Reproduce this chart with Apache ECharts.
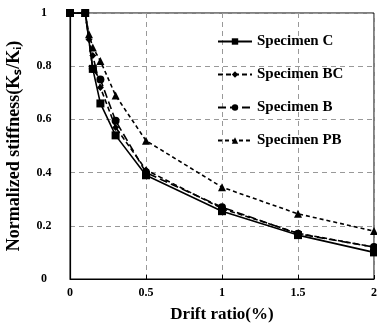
<!DOCTYPE html>
<html>
<head>
<meta charset="utf-8">
<script src="https://cdn.jsdelivr.net/npm/echarts@6/dist/echarts.min.js"></script>
<style>
  html, body { margin: 0; padding: 0; background: #fff; }
  #main { width: 377px; height: 327px; }
</style>
</head>
<body>
<div id="main"></div>
<script>
// drift ratio (%) vs normalized stiffness
let specC  = [[0, 1], [0.1, 1], [0.15, 0.79], [0.2, 0.66], [0.3, 0.54], [0.5, 0.39], [1, 0.255], [1.5, 0.165], [2, 0.1]];
let specBC = [[0, 1], [0.1, 1], [0.125, 0.9], [0.15, 0.84], [0.2, 0.72], [0.3, 0.57], [0.5, 0.41], [1, 0.265], [1.5, 0.172], [2, 0.12]];
let specB  = [[0, 1], [0.1, 1], [0.15, 0.79], [0.2, 0.75], [0.3, 0.595], [0.5, 0.4], [1, 0.27], [1.5, 0.17], [2, 0.12]];
let specPB = [[0, 1], [0.1, 1], [0.125, 0.92], [0.15, 0.87], [0.2, 0.82], [0.3, 0.69], [0.5, 0.52], [1, 0.345], [1.5, 0.245], [2, 0.18]];

let font = 'Liberation Serif';

let chartDom = document.getElementById('main');
let myChart = echarts.init(chartDom);

function mk(name, data, symbol, size, dash) {
    return {
        name: name,
        type: 'line',
        data: data,
        symbol: symbol,
        symbolSize: size,
        itemStyle: { color: '#000' },
        lineStyle: { color: '#000', width: 1.6, type: dash },
        animation: false
    };
}

let option = {
    grid: {
        left: 70, right: 3, top: 13, bottom: 48,
        outerBoundsMode: 'none',
        show: true, borderColor: '#000', borderWidth: 1
    },
    legend: {
        orient: 'vertical',
        left: 212,
        top: 29,
        itemGap: 18,
        itemWidth: 34,
        itemHeight: 8,
        textStyle: { fontFamily: font, fontWeight: 'bold', fontSize: 15, color: '#000' },
        data: ['Specimen C', 'Specimen BC', 'Specimen B', 'Specimen PB']
    },
    xAxis: {
        type: 'value',
        min: 0, max: 2, interval: 0.5,
        name: 'Drift ratio(%)',
        nameLocation: 'middle',
        nameGap: 27,
        nameTextStyle: { fontFamily: font, fontWeight: 'bold', fontSize: 17, color: '#000' },
        axisLine: { lineStyle: { color: '#000', width: 1.2 } },
        axisTick: { show: true, inside: true, length: 4, lineStyle: { color: '#000' } },
        axisLabel: { fontFamily: font, fontWeight: 'bold', fontSize: 12, color: '#000', margin: 8 },
        splitLine: { show: true, lineStyle: { color: '#999', type: [5, 4], width: 1 } }
    },
    yAxis: {
        type: 'value',
        min: 0, max: 1, interval: 0.2,
        name: 'Normalized stiffness(K\u209B/K\u1D62)',
        nameLocation: 'middle',
        nameGap: 47,
        nameTextStyle: { fontFamily: font, fontWeight: 'bold', fontSize: 18, color: '#000' },
        axisLine: { lineStyle: { color: '#000', width: 1.2 } },
        axisTick: { show: false },
        axisLabel: { fontFamily: font, fontWeight: 'bold', fontSize: 12, color: '#000', margin: 26, align: 'center' },
        splitLine: { show: true, lineStyle: { color: '#999', type: [5, 4], width: 1 } }
    },
    series: [
        mk('Specimen C', specC, 'rect', 8, 'solid'),
        mk('Specimen BC', specBC, 'diamond', 7, [5, 3]),
        mk('Specimen B', specB, 'circle', 8, [8, 4]),
        mk('Specimen PB', specPB, 'triangle', 8, [4, 3])
    ]
};

option && myChart.setOption(option);
</script>
</body>
</html>
